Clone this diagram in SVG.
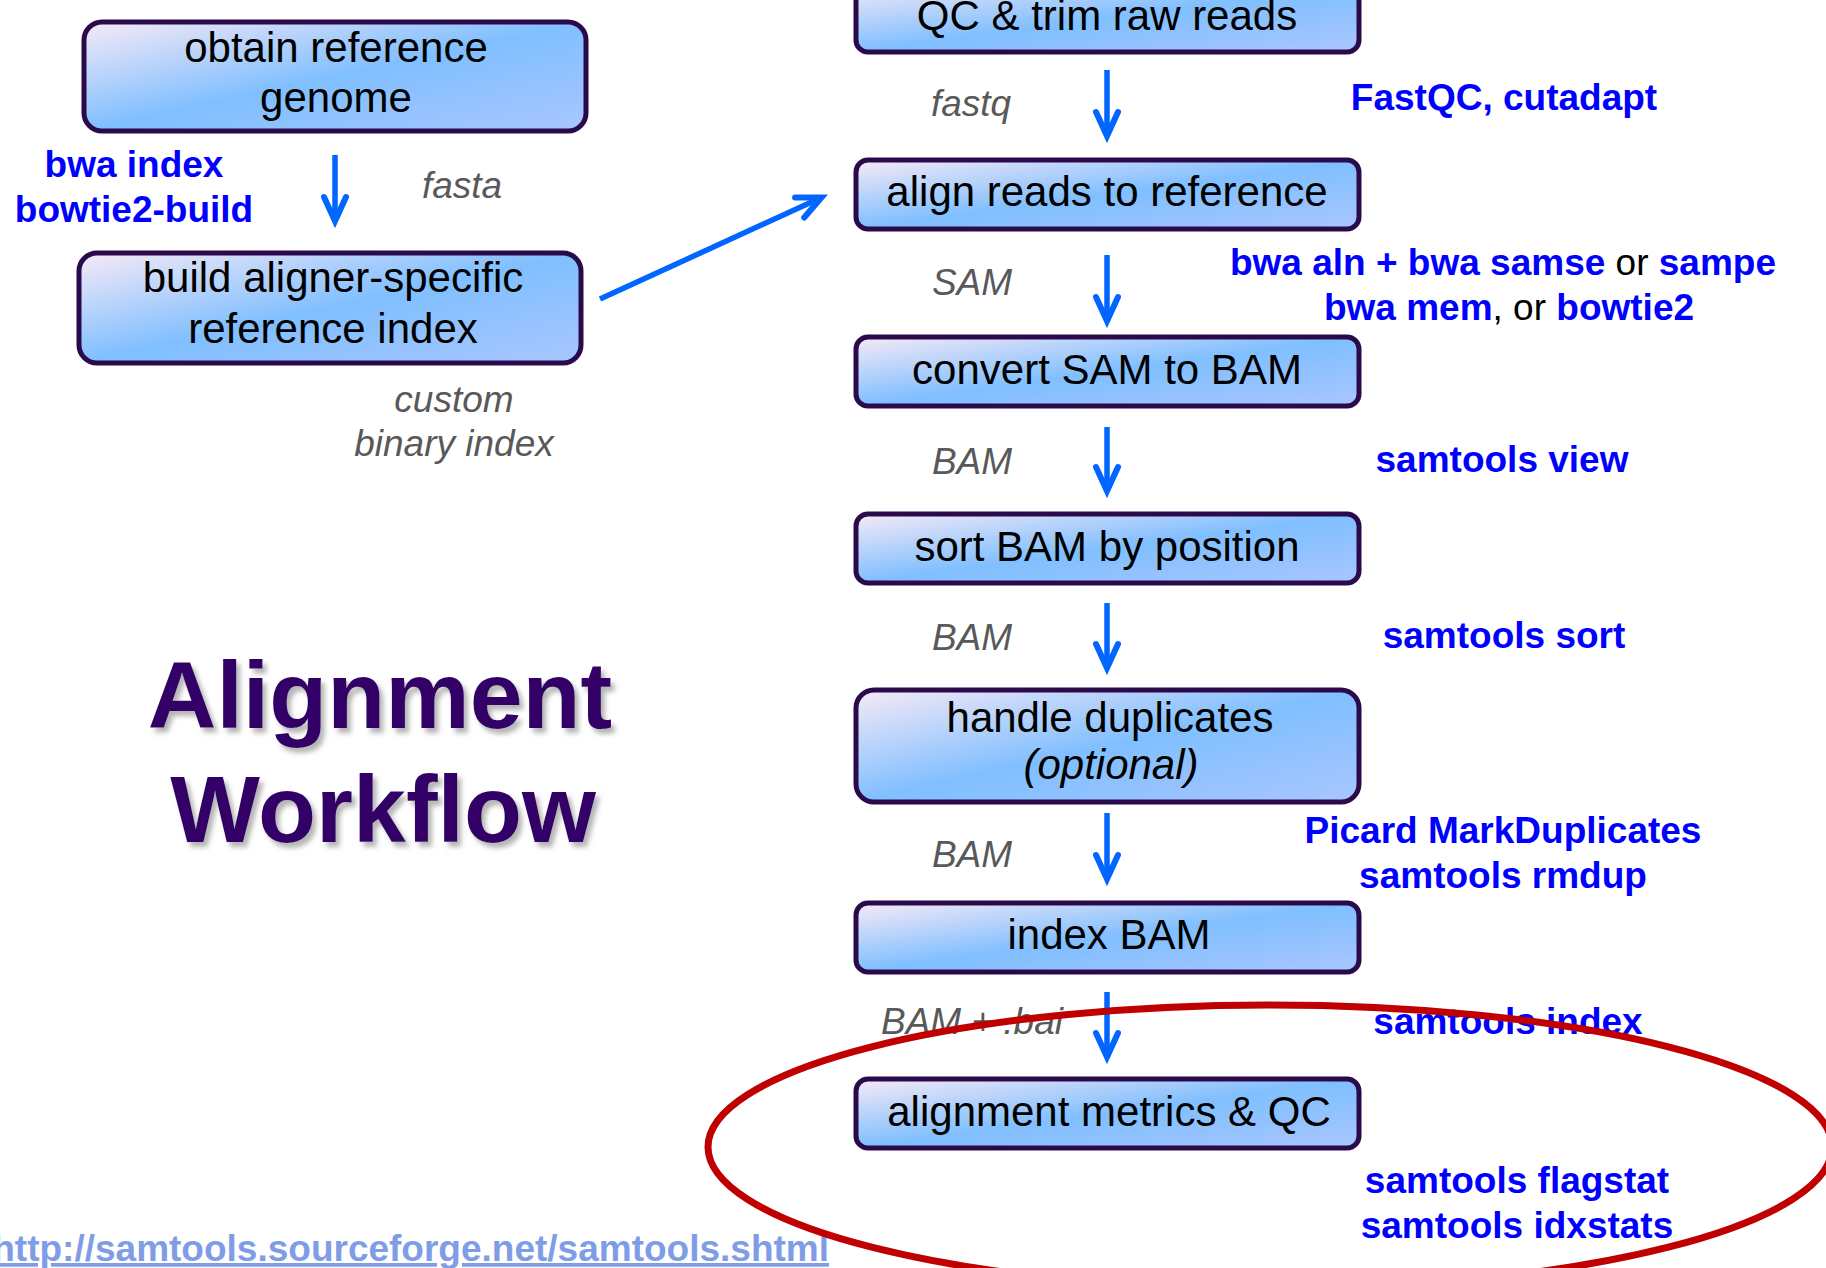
<svg xmlns="http://www.w3.org/2000/svg" width="1826" height="1268" viewBox="0 0 1826 1268">
<defs>
<linearGradient id="boxfill" x1="0" y1="0" x2="1" y2="1">
<stop offset="0" stop-color="#f7eaf6"/>
<stop offset="0.5" stop-color="#80bfff"/>
<stop offset="1" stop-color="#a9c6ff"/>
</linearGradient>
<marker id="head" markerUnits="userSpaceOnUse" viewBox="-40 -20 60 40" markerWidth="60" markerHeight="40" refX="-6" refY="0" orient="auto">
<path d="M-24,-11 L0,0 L-24,11" fill="none" stroke="#0066ff" stroke-width="6" stroke-linejoin="miter" stroke-miterlimit="10" stroke-linecap="round"/>
</marker>
<filter id="shadow" x="-10%" y="-20%" width="120%" height="150%">
<feGaussianBlur in="SourceAlpha" stdDeviation="2.5"/>
<feOffset dx="4" dy="5" result="b"/>
<feFlood flood-color="#777777" flood-opacity="0.55"/>
<feComposite in2="b" operator="in"/>
<feMerge><feMergeNode/><feMergeNode in="SourceGraphic"/></feMerge>
</filter>
</defs>
<style>
text{font-family:"Liberation Sans",Arial,sans-serif}
.box{fill:url(#boxfill);stroke:#2a0a4a;stroke-width:5}
.bt{font-size:42px;fill:#000;text-anchor:middle}
.gl{font-size:37px;font-style:italic;fill:#595959;text-anchor:middle}
.tl{font-size:37px;font-weight:bold;fill:#0000ff;text-anchor:middle}
.blk{font-weight:normal;fill:#000}
.arr{stroke:#0066ff;stroke-width:5.5;fill:none;marker-end:url(#head)}
.title{font-size:95px;font-weight:bold;fill:#330066;text-anchor:middle}
</style>
<rect width="1826" height="1268" fill="#ffffff"/>

<g id="title" filter="url(#shadow)">
<text class="title" x="380" y="728">Alignment</text>
<text class="title" x="383" y="842">Workflow</text>
</g>

<g id="connectors">
<line class="arr" x1="335" y1="155" x2="335" y2="215"/>
<line class="arr" x1="600" y1="299" x2="816" y2="200"/>
<line class="arr" x1="1107" y1="70" x2="1107" y2="130"/>
<line class="arr" x1="1107" y1="255" x2="1107" y2="315"/>
<line class="arr" x1="1107" y1="427" x2="1107" y2="485"/>
<line class="arr" x1="1107" y1="603" x2="1107" y2="662"/>
<line class="arr" x1="1107" y1="813" x2="1107" y2="873"/>
<line class="arr" x1="1107" y1="992" x2="1107" y2="1051"/>
</g>

<g id="node-obtain">
<rect class="box" x="84" y="22" width="502" height="109" rx="18"/>
<text class="bt" x="336" y="62">obtain reference</text>
<text class="bt" x="336" y="112">genome</text>
</g>
<g id="node-build">
<rect class="box" x="79" y="253" width="502" height="110" rx="18"/>
<text class="bt" x="333" y="292">build aligner-specific</text>
<text class="bt" x="333" y="343">reference index</text>
</g>
<g id="node-qc">
<rect class="box" x="856" y="-17" width="503" height="69" rx="12"/>
<text class="bt" x="1107" y="30">QC &amp; trim raw reads</text>
</g>
<g id="node-align">
<rect class="box" x="856" y="160" width="503" height="69" rx="12"/>
<text class="bt" x="1107" y="206">align reads to reference</text>
</g>
<g id="node-convert">
<rect class="box" x="856" y="337" width="503" height="69" rx="12"/>
<text class="bt" x="1107" y="384">convert SAM to BAM</text>
</g>
<g id="node-sort">
<rect class="box" x="856" y="514" width="503" height="69" rx="12"/>
<text class="bt" x="1107" y="561">sort BAM by position</text>
</g>
<g id="node-dup">
<rect class="box" x="856" y="690" width="503" height="112" rx="18"/>
<text class="bt" x="1110" y="732">handle duplicates</text>
<text class="bt" x="1111" y="779" font-size="37" font-style="italic">(optional)</text>
</g>
<g id="node-index">
<rect class="box" x="856" y="903" width="503" height="69" rx="12"/>
<text class="bt" x="1109" y="949">index BAM</text>
</g>
<g id="node-metrics">
<rect class="box" x="856" y="1079" width="503" height="69" rx="12"/>
<text class="bt" x="1109" y="1126">alignment metrics &amp; QC</text>
</g>

<g id="labels">
<text class="tl" x="134" y="177">bwa index</text>
<text class="tl" x="134" y="222">bowtie2-build</text>
<text class="gl" x="462" y="198">fasta</text>
<text class="gl" x="454" y="412">custom</text>
<text class="gl" x="454" y="456">binary index</text>

<text class="gl" x="971" y="116">fastq</text>
<text class="gl" x="972" y="295">SAM</text>
<text class="gl" x="972" y="474">BAM</text>
<text class="gl" x="972" y="650">BAM</text>
<text class="gl" x="972" y="867">BAM</text>
<text class="gl" x="972" y="1034">BAM + .bai</text>

<text class="tl" x="1504" y="110">FastQC, cutadapt</text>
<text class="tl" x="1503" y="275">bwa aln + bwa samse<tspan class="blk"> or </tspan>sampe</text>
<text class="tl" x="1509" y="320">bwa mem<tspan class="blk">, or </tspan>bowtie2</text>
<text class="tl" x="1502" y="472">samtools view</text>
<text class="tl" x="1504" y="648">samtools sort</text>
<text class="tl" x="1503" y="843">Picard MarkDuplicates</text>
<text class="tl" x="1503" y="888">samtools rmdup</text>
<text class="tl" x="1508" y="1034">samtools index</text>
<text class="tl" x="1517" y="1193">samtools flagstat</text>
<text class="tl" x="1517" y="1238">samtools idxstats</text>

<text x="829" y="1261" font-size="37" font-weight="bold" fill="#7f9de6" text-anchor="end" text-decoration="underline">http://samtools.sourceforge.net/samtools.shtml</text>
</g>

<ellipse id="highlight" cx="1270" cy="1147" rx="562" ry="142" fill="none" stroke="#c00000" stroke-width="7"/>
</svg>
